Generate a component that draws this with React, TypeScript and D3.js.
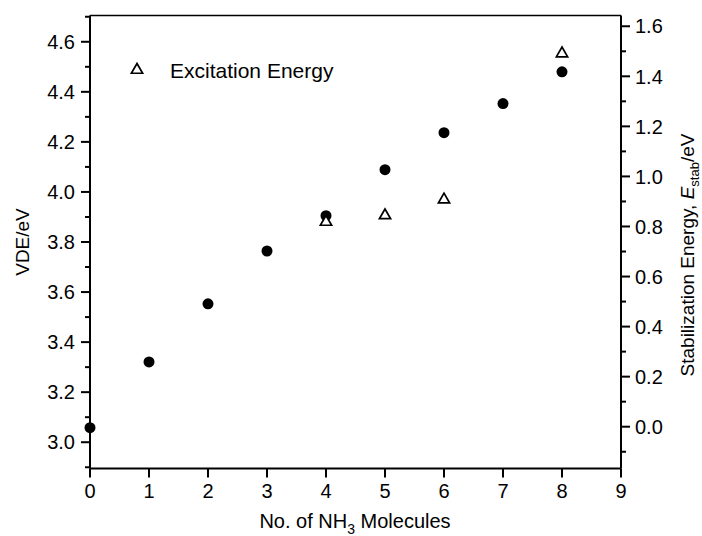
import React, { useEffect, useRef } from "react";
import * as d3 from "d3";

const nMolecules = [0, 1, 2, 3, 4, 5, 6, 7, 8];
const vdeValues = [3.058, 3.321, 3.553, 3.764, 3.905, 4.089, 4.237, 4.353, 4.48];
const excitationN = [4, 5, 6, 8];
const excitationValues = [3.88, 3.906, 3.969, 4.553];
const xTicks = [0, 1, 2, 3, 4, 5, 6, 7, 8, 9];
const leftTicks = [3.0, 3.2, 3.4, 3.6, 3.8, 4.0, 4.2, 4.4, 4.6];
const leftMinor = [2.9, 3.1, 3.3, 3.5, 3.7, 3.9, 4.1, 4.3, 4.5, 4.7];
const rightTicks = [0.0, 0.2, 0.4, 0.6, 0.8, 1.0, 1.2, 1.4, 1.6];
const rightMinor = [-0.1, 0.1, 0.3, 0.5, 0.7, 0.9, 1.1, 1.3, 1.5];

const W = 702, H = 536;
const L = 90, R = 621, T = 15.5, B = 468.5;
const FONT = "'Liberation Sans', Arial, Helvetica, sans-serif";

export default function App() {
  const ref = useRef<SVGSVGElement | null>(null);
  useEffect(() => {
    const svg = d3.select(ref.current);
    svg.selectAll("*").remove();
    const x = d3.scaleLinear().domain([0, 9]).range([L, R]);
    const yL = d3.scaleLinear().domain([2.895, 4.705]).range([B, T]);
    const yR = d3.scaleLinear().domain([-0.167, 1.643]).range([B, T]);

    svg.append("rect").attr("width", W).attr("height", H).attr("fill", "white");

    // frame
    svg.append("line").attr("x1", L).attr("x2", R).attr("y1", T).attr("y2", T).attr("stroke", "#000").attr("stroke-width", 1.6);

    // bottom axis
    const gx = svg.append("g");
    gx.append("line").attr("x1", L).attr("x2", R).attr("y1", B).attr("y2", B).attr("stroke", "#000").attr("stroke-width", 2);
    xTicks.forEach((t) => {
      gx.append("line").attr("x1", x(t)).attr("x2", x(t)).attr("y1", B).attr("y2", B + 9).attr("stroke", "#000").attr("stroke-width", 2);
      gx.append("text").attr("x", x(t)).attr("y", B + 29).attr("text-anchor", "middle")
        .attr("font-family", FONT).attr("font-size", 20).text(String(t));
    });
    const xt = gx.append("text").attr("x", 355).attr("y", 528).attr("text-anchor", "middle")
      .attr("font-family", FONT).attr("font-size", 20);
    xt.append("tspan").text("No. of NH");
    xt.append("tspan").attr("font-size", 14).attr("dy", 6).text("3");
    xt.append("tspan").attr("dy", -6).text(" Molecules");

    // left axis
    const gl = svg.append("g");
    gl.append("line").attr("x1", L).attr("x2", L).attr("y1", T).attr("y2", B).attr("stroke", "#000").attr("stroke-width", 2);
    leftTicks.forEach((t) => {
      gl.append("line").attr("x1", L - 9).attr("x2", L).attr("y1", yL(t)).attr("y2", yL(t)).attr("stroke", "#000").attr("stroke-width", 2);
      gl.append("text").attr("x", L - 15).attr("y", yL(t)).attr("dy", "0.36em").attr("text-anchor", "end")
        .attr("font-family", FONT).attr("font-size", 20).text(t.toFixed(1));
    });
    leftMinor.forEach((t) => {
      gl.append("line").attr("x1", L - 5).attr("x2", L).attr("y1", yL(t)).attr("y2", yL(t)).attr("stroke", "#000").attr("stroke-width", 2);
    });
    gl.append("text").attr("transform", `translate(29,${(T + B) / 2}) rotate(-90)`).attr("text-anchor", "middle")
      .attr("font-family", FONT).attr("font-size", 19).text("VDE/eV");

    // right axis
    const gr = svg.append("g");
    gr.append("line").attr("x1", R).attr("x2", R).attr("y1", T).attr("y2", B).attr("stroke", "#000").attr("stroke-width", 2);
    rightTicks.forEach((t) => {
      gr.append("line").attr("x1", R).attr("x2", R + 9).attr("y1", yR(t)).attr("y2", yR(t)).attr("stroke", "#000").attr("stroke-width", 2);
      gr.append("text").attr("x", R + 14).attr("y", yR(t)).attr("dy", "0.36em").attr("text-anchor", "start")
        .attr("font-family", FONT).attr("font-size", 20).text(t.toFixed(1));
    });
    rightMinor.forEach((t) => {
      gr.append("line").attr("x1", R).attr("x2", R + 5).attr("y1", yR(t)).attr("y2", yR(t)).attr("stroke", "#000").attr("stroke-width", 2);
    });
    const rt = gr.append("text").attr("transform", `translate(694,255) rotate(-90)`).attr("text-anchor", "middle")
      .attr("font-family", FONT).attr("font-size", 19);
    rt.append("tspan").text("Stabilization Energy, ");
    rt.append("tspan").attr("font-style", "italic").text("E");
    rt.append("tspan").attr("font-size", 13).attr("dy", 5).text("stab");
    rt.append("tspan").attr("dy", -5).text("/eV");

    // dots
    svg.append("g").selectAll("circle").data(nMolecules).join("circle")
      .attr("cx", (d) => x(d)).attr("cy", (d, i) => yL(vdeValues[i])).attr("r", 5.5).attr("fill", "#000");

    // triangles
    const tri = d3.symbol().type(d3.symbolTriangle).size(55);
    svg.append("g").selectAll("path").data(excitationN).join("path")
      .attr("d", tri)
      .attr("transform", (d, i) => `translate(${x(d)},${yL(excitationValues[i])})`)
      .attr("fill", "white").attr("stroke", "#000").attr("stroke-width", 1.7);

    // legend
    svg.append("path").attr("d", tri).attr("transform", "translate(137,70)")
      .attr("fill", "white").attr("stroke", "#000").attr("stroke-width", 1.7);
    svg.append("text").attr("x", 170).attr("y", 78).attr("font-family", FONT).attr("font-size", 21).text("Excitation Energy");
  }, []);
  return (
    <svg ref={ref} width={W} height={H} style={{ position: "absolute", left: 0, top: 0 }} />
  );
}
